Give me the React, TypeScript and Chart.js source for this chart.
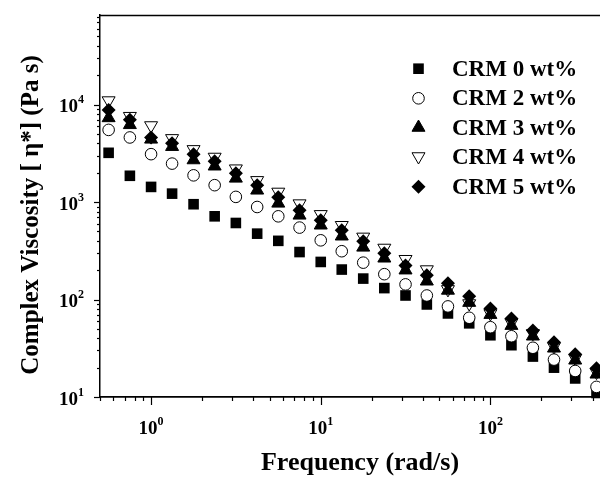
import React, { useEffect, useRef } from 'react';
import { Chart, registerables } from 'chart.js';

Chart.register(...registerables);

// Frequency (rad/s)
const frequency = [0.562, 0.75, 1, 1.33, 1.78, 2.37, 3.16, 4.22, 5.62, 7.5, 10, 13.3, 17.8, 23.7, 31.6, 42.2, 56.2, 75, 100, 133, 178, 237, 316, 422];

// Complex viscosity |η*| (Pa s)
const crm0 = [3200, 1860, 1430, 1220, 950, 714, 610, 474, 400, 307, 243, 203, 164, 131, 110, 89, 72, 57, 43, 34, 26, 20, 15.5, 11];
const crm2 = [5500, 4600, 3100, 2480, 1880, 1490, 1130, 890, 714, 547, 405, 313, 239, 182, 143, 110, 85, 65, 52, 42, 32, 24.2, 18.5, 12.7];
const crm3 = [7300, 6200, 4400, 3700, 2700, 2330, 1750, 1320, 970, 731, 578, 446, 343, 265, 200, 154, 124, 93, 70, 54, 42, 31.6, 23.8, 17.1];
const crm4 = [11000, 7600, 6100, 4500, 3470, 2900, 2200, 1670, 1270, 964, 748, 578, 439, 338, 259, 203, 127, 91, 72, 58, 45, 33, 25, 18];
const crm5 = [8800, 7000, 4600, 4000, 3100, 2620, 1970, 1490, 1120, 822, 650, 513, 396, 298, 224, 177, 147, 108, 81, 64, 48, 36.4, 27.4, 19.7];

const seriesLabels = ['CRM 0 wt%', 'CRM 2 wt%', 'CRM 3 wt%', 'CRM 4 wt%', 'CRM 5 wt%'];

const xTickValues = [1, 10, 100];
const yTickValues = [10, 100, 1000, 10000];
const xTitle = 'Frequency (rad/s)';
const yTitle = 'Complex Viscosity [ η*] (Pa s)';

const FONT = "'Liberation Serif', 'Times New Roman', serif";

type Marker = { style: string; radius: number; rotation: number; fill: string; border: number };

const markers: Marker[] = [
  { style: 'rect', radius: 7.5, rotation: 0, fill: '#000', border: 0 },
  { style: 'circle', radius: 5.8, rotation: 0, fill: '#fff', border: 1 },
  { style: 'triangle', radius: 7.5, rotation: 0, fill: '#000', border: 1 },
  { style: 'triangle', radius: 7.5, rotation: 180, fill: '#fff', border: 1 },
  { style: 'rectRot', radius: 7, rotation: 0, fill: '#000', border: 0 },
];

// drawing order: lower value drawn on top
const drawOrder = [1, 0, 3, 4, 2];

function drawMarker(ctx: CanvasRenderingContext2D, m: Marker, x: number, y: number) {
  const r = m.radius;
  const rad = (m.rotation * Math.PI) / 180;
  ctx.beginPath();
  if (m.style === 'rect') {
    const s = Math.SQRT1_2 * r;
    ctx.rect(x - s, y - s, 2 * s, 2 * s);
  } else if (m.style === 'circle') {
    ctx.arc(x, y, r, 0, Math.PI * 2);
  } else if (m.style === 'triangle') {
    let a = rad;
    ctx.moveTo(x + Math.sin(a) * r, y - Math.cos(a) * r);
    a += (2 * Math.PI) / 3;
    ctx.lineTo(x + Math.sin(a) * r, y - Math.cos(a) * r);
    a += (2 * Math.PI) / 3;
    ctx.lineTo(x + Math.sin(a) * r, y - Math.cos(a) * r);
    ctx.closePath();
  } else {
    ctx.moveTo(x - r, y);
    ctx.lineTo(x, y - r);
    ctx.lineTo(x + r, y);
    ctx.lineTo(x, y + r);
    ctx.closePath();
  }
  ctx.fillStyle = m.fill;
  ctx.fill();
  if (m.border > 0) {
    ctx.lineWidth = m.border;
    ctx.strokeStyle = '#000';
    ctx.stroke();
  }
}

const decorPlugin = {
  id: 'decor',
  afterDraw(chart: any) {
    const ctx: CanvasRenderingContext2D = chart.ctx;
    const ca = chart.chartArea;
    const xs = chart.scales.x;
    const ys = chart.scales.y;
    ctx.save();
    ctx.strokeStyle = '#000';
    ctx.lineWidth = 1.3;
    // top frame line
    ctx.beginPath();
    ctx.moveTo(ca.left, ca.top + 0.5);
    ctx.lineTo(ca.right, ca.top + 0.5);
    ctx.stroke();

    // tick marks
    ctx.lineWidth = 1.2;
    for (let e = -1; e <= 3; e++) {
      for (let k = 1; k <= 9; k++) {
        const v = k * Math.pow(10, e);
        if (v >= xs.min * 0.999 && v <= xs.max * 1.001) {
          const px = Math.round(xs.getPixelForValue(v)) + 0.5;
          const len = k === 1 ? 8 : 4;
          ctx.beginPath();
          ctx.moveTo(px, ca.bottom);
          ctx.lineTo(px, ca.bottom + len);
          ctx.stroke();
        }
      }
    }
    for (let e = 0; e <= 5; e++) {
      for (let k = 1; k <= 9; k++) {
        const v = k * Math.pow(10, e);
        if (v >= ys.min * 0.999 && v <= ys.max * 1.001) {
          const py = Math.round(ys.getPixelForValue(v)) + 0.5;
          const len = k === 1 ? 6 : 3;
          ctx.beginPath();
          ctx.moveTo(ca.left, py);
          ctx.lineTo(ca.left - len, py);
          ctx.stroke();
        }
      }
    }

    // tick labels with superscripts
    ctx.fillStyle = '#000';
    ctx.textAlign = 'left';
    ctx.textBaseline = 'alphabetic';
    const baseFont = `bold 19px ${FONT}`;
    const supFont = `bold 12px ${FONT}`;
    const drawPow = (v: number, left: number, baseline: number) => {
      const exp = String(Math.round(Math.log10(v)));
      ctx.font = baseFont;
      ctx.fillText('10', left, baseline);
      const wb = ctx.measureText('10').width;
      ctx.font = supFont;
      ctx.fillText(exp, left + wb, baseline - 9);
    };
    const powWidth = (v: number) => {
      const exp = String(Math.round(Math.log10(v)));
      ctx.font = baseFont;
      const wb = ctx.measureText('10').width;
      ctx.font = supFont;
      return wb + ctx.measureText(exp).width;
    };
    xTickValues.forEach((v) => {
      const px = xs.getPixelForValue(v);
      const w = powWidth(v);
      drawPow(v, px - w / 2, 433.5);
    });
    yTickValues.forEach((v) => {
      const py = ys.getPixelForValue(v);
      const w = powWidth(v);
      drawPow(v, 84 - w, py + 7.7);
    });

    // axis titles
    ctx.font = `bold 26px ${FONT}`;
    ctx.textAlign = 'center';
    ctx.fillText(xTitle, 360, 470);
    ctx.save();
    ctx.translate(38, 215);
    ctx.rotate(-Math.PI / 2);
    ctx.font = `bold 25px ${FONT}`;
    ctx.fillText(yTitle, 0, 0);
    ctx.restore();

    // legend
    const legX = 418.5;
    const legText = 452;
    const legY = [68.7, 98.3, 127.5, 156.5, 186.7];
    ctx.textAlign = 'left';
    seriesLabels.forEach((label, i) => {
      drawMarker(ctx, markers[i], legX, legY[i]);
      ctx.fillStyle = '#000';
      ctx.font = `bold 23px ${FONT}`;
      ctx.fillText(label, legText, legY[i] + 7);
    });
    ctx.restore();
  },
};

export default function App() {
  const ref = useRef<HTMLCanvasElement | null>(null);
  useEffect(() => {
    if (!ref.current) return;
    const series = [crm0, crm2, crm3, crm4, crm5];
    const datasets = series.map((vals, i) => ({
      label: seriesLabels[i],
      data: vals.map((v, j) => ({ x: frequency[j], y: v })),
      showLine: false,
      pointStyle: markers[i].style as any,
      pointRadius: markers[i].radius,
      pointRotation: markers[i].rotation,
      pointBackgroundColor: markers[i].fill,
      pointBorderColor: '#000',
      pointBorderWidth: markers[i].border,
      pointHoverRadius: markers[i].radius,
      order: drawOrder[i],
      clip: false as any,
    }));
    const chart = new Chart(ref.current, {
      type: 'scatter',
      data: { datasets },
      options: {
        animation: false,
        responsive: false,
        devicePixelRatio: 1,
        layout: { padding: { left: 100, right: 11, top: 15, bottom: 82 }, autoPadding: false },
        plugins: { legend: { display: false }, tooltip: { enabled: false } },
        scales: {
          x: {
            type: 'logarithmic',
            min: 0.5,
            max: 500,
            grid: { display: false, drawTicks: false, tickLength: 0 },
            ticks: { display: false },
            border: { display: true, color: '#000', width: 1.8 },
            title: { display: false },
          },
          y: {
            type: 'logarithmic',
            min: 10,
            max: 83000,
            grid: { display: false, drawTicks: false, tickLength: 0 },
            ticks: { display: false },
            border: { display: true, color: '#000', width: 1.5 },
            title: { display: false },
          },
        },
      },
      plugins: [decorPlugin],
    });
    return () => chart.destroy();
  }, []);
  return (
    <div style={{ position: 'fixed', left: 0, top: 0, width: 600, height: 479, overflow: 'hidden', background: '#fff' }}>
      <canvas ref={ref} width={620} height={479} style={{ display: 'block' }} />
    </div>
  );
}
